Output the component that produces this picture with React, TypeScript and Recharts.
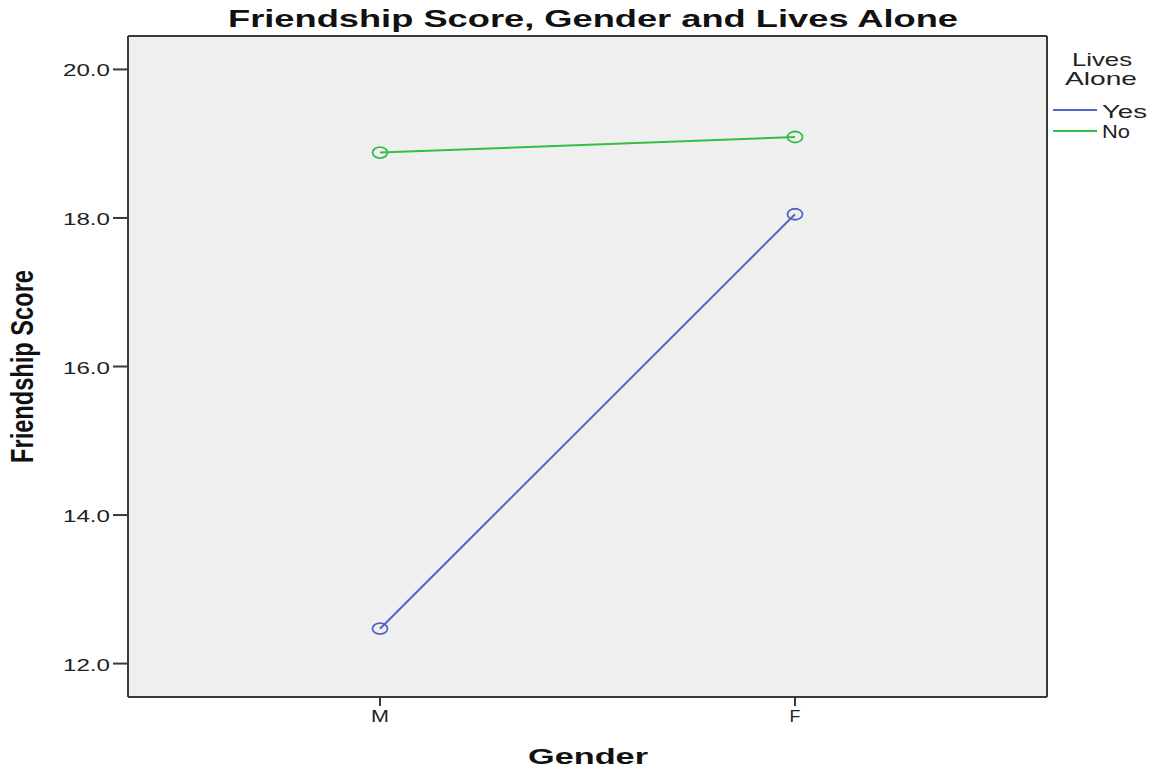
import { CartesianGrid, Legend, Line, LineChart, XAxis, YAxis } from "recharts";

const genders = ["M", "F"];
const livesAloneYes = [12.47, 18.05];
const livesAloneNo = [18.88, 19.09];
const yTicks = [12, 14, 16, 18, 20];
const seriesNames = ["Yes", "No"];

const data = genders.map((g, i) => ({
  gender: g,
  yes: livesAloneYes[i],
  no: livesAloneNo[i],
}));

const BLUE = "#5066c6";
const GREEN = "#36bd45";
const AXIS = "#3a3a3a";
const FONT = "'Liberation Sans', Arial, sans-serif";

const tickWidths: Record<string, number> = { M: 18, F: 11 };

const EllipseDot = (color: string) => (props: any) => {
  const { cx, cy, index } = props;
  if (cx == null || cy == null) return null;
  return (
    <ellipse
      key={index}
      cx={cx}
      cy={cy}
      rx={7.5}
      ry={5.5}
      fill="none"
      stroke={color}
      strokeWidth={1.8}
    />
  );
};

const YTick = (props: any) => {
  const { x, y, payload } = props;
  return (
    <text
      x={x}
      y={y + 7}
      textAnchor="end"
      fontFamily={FONT}
      fontSize={17}
      fill="#222"
      textLength={47}
      lengthAdjust="spacingAndGlyphs"
    >
      {Number(payload.value).toFixed(1)}
    </text>
  );
};

const XTick = (props: any) => {
  const { x, y, payload } = props;
  return (
    <text
      x={x}
      y={y + 13}
      textAnchor="middle"
      fontFamily={FONT}
      fontSize={17}
      fill="#222"
      textLength={tickWidths[payload.value] ?? 14}
      lengthAdjust="spacingAndGlyphs"
    >
      {payload.value}
    </text>
  );
};

const renderLegend = (props: any) => {
  const payload = [...(props.payload ?? [])].sort(
    (a: any, b: any) => seriesNames.indexOf(a.value) - seriesNames.indexOf(b.value)
  );
  const txt = { fontFamily: FONT, fontSize: 19, fill: "#222" } as const;
  return (
    <svg width={105} height={110}>
      <text x={54} y={26} textAnchor="middle" textLength={60} lengthAdjust="spacingAndGlyphs" {...txt}>
        Lives
      </text>
      <text x={53} y={45} textAnchor="middle" textLength={72} lengthAdjust="spacingAndGlyphs" {...txt}>
        Alone
      </text>
      {payload.map((p: any, i: number) => (
        <g key={p.value}>
          <line x1={5} x2={49} y1={70 + i * 21} y2={70 + i * 21} stroke={p.color} strokeWidth={2} />
          <text
            x={54}
            y={78 + i * 20}
            textLength={p.value === "Yes" ? 45 : 28}
            lengthAdjust="spacingAndGlyphs"
            {...txt}
          >
            {p.value}
          </text>
        </g>
      ))}
    </svg>
  );
};

export default function App() {
  return (
    <div style={{ position: "absolute", left: 0, top: 0, width: 1153, height: 769, background: "#fff" }}>
      <LineChart
        width={1153}
        height={769}
        data={data}
        margin={{ top: 35, right: 105, bottom: 0, left: 0 }}
      >
        <CartesianGrid horizontal={false} vertical={false} fill="#efefef" />
        <XAxis
          dataKey="gender"
          height={72}
          padding={{ left: 252, right: 252 }}
          axisLine={{ stroke: AXIS, strokeWidth: 2 }}
          tickLine={{ stroke: AXIS, strokeWidth: 2 }}
          tickSize={9}
          tickMargin={3}
          tick={<XTick />}
        />
        <XAxis
          xAxisId="top"
          dataKey="gender"
          orientation="top"
          height={1}
          tick={false}
          tickLine={false}
          axisLine={{ stroke: AXIS, strokeWidth: 2 }}
        />
        <YAxis
          width={128}
          domain={[11.55, 20.45]}
          ticks={yTicks}
          allowDataOverflow
          axisLine={{ stroke: AXIS, strokeWidth: 2 }}
          tickLine={{ stroke: AXIS, strokeWidth: 2 }}
          tickSize={15}
          tickMargin={3}
          tick={<YTick />}
        />
        <YAxis
          yAxisId="right"
          orientation="right"
          width={1}
          domain={[11.55, 20.45]}
          tick={false}
          tickLine={false}
          axisLine={{ stroke: AXIS, strokeWidth: 2 }}
        />
        <Legend
          layout="vertical"
          verticalAlign="middle"
          align="center"
          content={renderLegend}
          wrapperStyle={{ position: "absolute", left: 1048, top: 40, width: 105 }}
        />
        <Line
          type="linear"
          dataKey="yes"
          name={seriesNames[0]}
          stroke={BLUE}
          strokeWidth={2}
          dot={EllipseDot(BLUE)}
          activeDot={false}
          isAnimationActive={false}
        />
        <Line
          type="linear"
          dataKey="no"
          name={seriesNames[1]}
          stroke={GREEN}
          strokeWidth={2}
          dot={EllipseDot(GREEN)}
          activeDot={false}
          isAnimationActive={false}
        />
      </LineChart>
      <svg
        width={1153}
        height={769}
        style={{ position: "absolute", left: 0, top: 0, pointerEvents: "none" }}
      >
        <text
          x={593}
          y={27}
          textAnchor="middle"
          fontFamily={FONT}
          fontWeight="bold"
          fontSize={24}
          fill="#111"
          textLength={730}
          lengthAdjust="spacingAndGlyphs"
        >
          Friendship Score, Gender and Lives Alone
        </text>
        <text
          x={588}
          y={764}
          textAnchor="middle"
          fontFamily={FONT}
          fontWeight="bold"
          fontSize={22}
          fill="#111"
          textLength={120}
          lengthAdjust="spacingAndGlyphs"
        >
          Gender
        </text>
        <text
          transform="translate(33, 366.5) rotate(-90)"
          textAnchor="middle"
          fontFamily={FONT}
          fontWeight="bold"
          fontSize={31}
          fill="#111"
          textLength={193}
          lengthAdjust="spacingAndGlyphs"
        >
          Friendship Score
        </text>
      </svg>
    </div>
  );
}
